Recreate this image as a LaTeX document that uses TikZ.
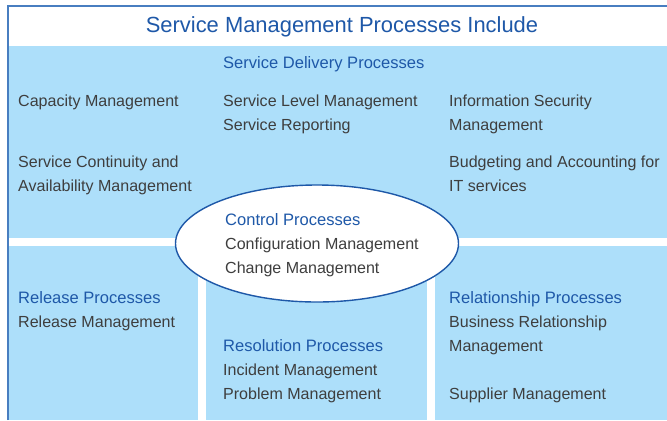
\documentclass[tikz,border=0pt]{standalone}
\usepackage{fontspec}
\setmainfont{Liberation Sans}
\definecolor{paleblue}{RGB}{173,223,250}
\definecolor{headblue}{RGB}{30,88,168}
\definecolor{frameblue}{RGB}{72,126,192}
\definecolor{itemgray}{RGB}{62,62,62}

\begin{document}
\begin{tikzpicture}[x=1bp, y=-1bp,
		item/.style={anchor=base west, inner sep=0pt, text=itemgray, font=\fontsize{16.1}{18}\selectfont},
		head/.style={item, text=headblue, font=\fontsize{16.6}{18}\selectfont}]
		\useasboundingbox (0,0) rectangle (667,420);
		\fill[white] (0,0) rectangle (667,420);

		% panels
		\fill[paleblue] (8,46) rectangle (667,238);
		\fill[paleblue] (8,246) rectangle (198,420);
		\fill[paleblue] (206,246) rectangle (427,420);
		\fill[paleblue] (435,246) rectangle (667,420);
		\draw[frameblue, line width=2bp] (8,420) -- (8,6) -- (667,6);
		\draw[headblue, line width=1.4bp, fill=white] (317,243.5) ellipse (141.5 and 58.5);

		\node[head, anchor=base, font=\fontsize{22}{26}\selectfont] (title) at (342,32) {Service Management Processes Include};

		% service delivery
		\node[head] (delivery) at (223,68) {Service Delivery Processes};
		\node[item] (capacity) at (18,106) {Capacity Management};
		\node[item] (continuity) at (18,167) {Service Continuity and};
		\node[item] (availability) at (18,191) {Availability Management};
		\node[item] (level) at (223,106) {Service Level Management};
		\node[item] (reporting) at (223,130) {Service Reporting};
		\node[item] (security) at (449,106) {Information Security};
		\node[item] (securitymgmt) at (449,130) {Management};
		\node[item] (budgeting) at (449,167) {Budgeting and Accounting for};
		\node[item] (itservices) at (449,191) {IT services};

		% control
		\node[head] (control) at (225,225) {Control Processes};
		\node[item] (configuration) at (225,249) {Configuration Management};
		\node[item] (change) at (225,273) {Change Management};

		% release, resolution, relationship
		\node[head] (release) at (18,303) {Release Processes};
		\node[item] (releasemgmt) at (18,327) {Release Management};
		\node[head] (resolution) at (223,351) {Resolution Processes};
		\node[item] (incident) at (223,375) {Incident Management};
		\node[item] (problem) at (223,399) {Problem Management};
		\node[head] (relationship) at (449,303) {Relationship Processes};
		\node[item] (business) at (449,327) {Business Relationship};
		\node[item] (businessmgmt) at (449,351) {Management};
		\node[item] (supplier) at (449,399) {Supplier Management};
	\end{tikzpicture}
\end{document}
